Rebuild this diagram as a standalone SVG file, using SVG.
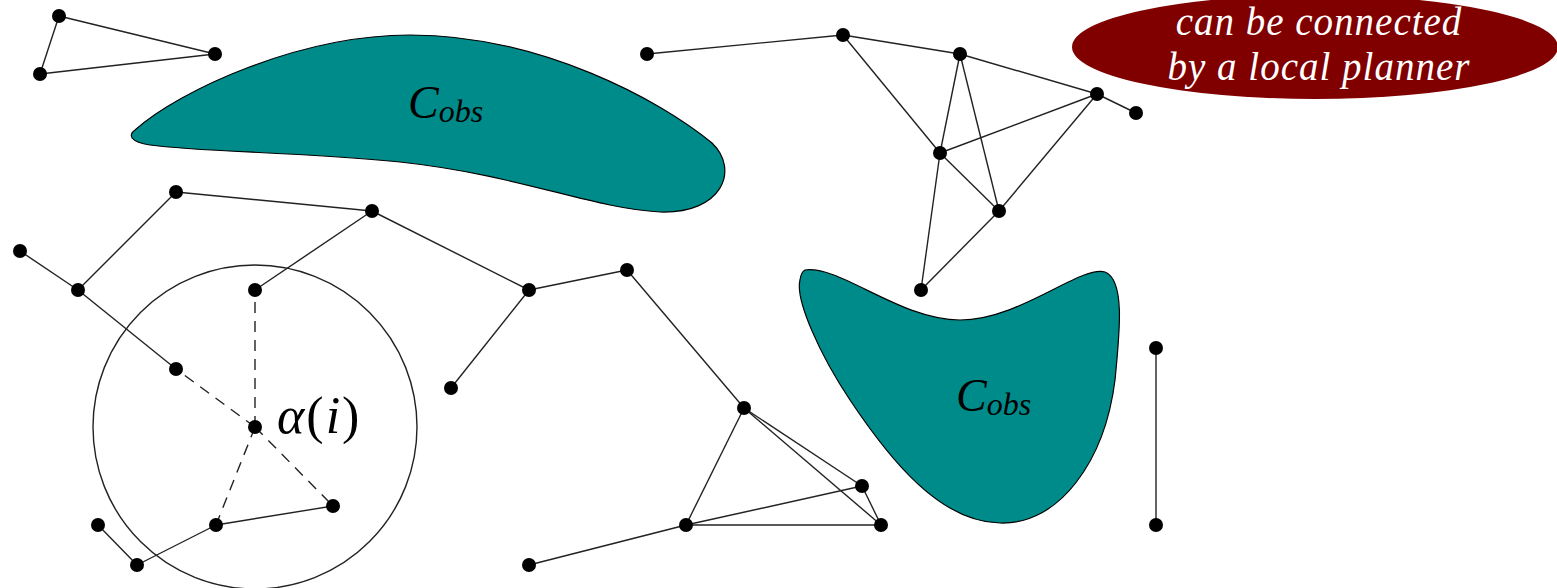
<svg xmlns="http://www.w3.org/2000/svg" width="1557" height="588" viewBox="0 0 1557 588">
<style>
.e{stroke:#222;stroke-width:1.4;fill:none}
.d{stroke:#222;stroke-width:1.4;fill:none;stroke-dasharray:11 8}
.n{fill:#000}
.obs{fill:#008b8b;stroke:#000;stroke-width:1.2}
.lab{font-family:"Liberation Serif","DejaVu Serif",serif;font-style:italic;fill:#000}
.bub{font-family:"Liberation Serif","DejaVu Serif",serif;font-style:italic;fill:#fff;font-size:39px;letter-spacing:1px;text-anchor:middle}
</style>
<rect width="1557" height="588" fill="#fff"/>
<g id="obstacle1">
<path class="obs" d="M135,130 C180,90 300,35 410,35 C540,35 660,100 712,143 C740,170 722,214 660,212 C590,208 520,175 400,162 C300,152 200,152 150,145 C130,142 128,135 135,130 Z"/>
<text class="lab" x="408" y="118" font-size="46">C<tspan font-size="32" dy="4">obs</tspan></text>
</g>
<g id="obstacle2">
<path class="obs" d="M805,270 C840,265 900,320 960,320 C1020,320 1080,265 1105,272 C1125,280 1120,330 1115,380 C1105,460 1060,525 1000,523 C940,522 890,460 850,400 C820,355 795,300 800,280 C801,273 803,271 805,270 Z"/>
<text class="lab" x="956" y="411" font-size="46">C<tspan font-size="32" dy="4">obs</tspan></text>
</g>
<g id="bubble">
<ellipse cx="1315" cy="47" rx="243" ry="52" fill="#800000"/>
<text class="bub" x="1319" y="35">can be connected</text>
<text class="bub" x="1319" y="80">by a local planner</text>
</g>
<g id="neighborhood">
<circle cx="255" cy="427" r="162" class="e" stroke-width="1.3"/>
</g>
<g id="connectors">
<line class="e" x1="59" y1="16" x2="40" y2="74"/>
<line class="e" x1="59" y1="16" x2="215" y2="54"/>
<line class="e" x1="40" y1="74" x2="215" y2="54"/>
<line class="e" x1="20" y1="251" x2="78" y2="290"/>
<line class="e" x1="78" y1="290" x2="176" y2="192"/>
<line class="e" x1="176" y1="192" x2="372" y2="211"/>
<line class="e" x1="372" y1="211" x2="255" y2="290"/>
<line class="e" x1="372" y1="211" x2="529" y2="290"/>
<line class="e" x1="78" y1="290" x2="176" y2="369"/>
<line class="e" x1="529" y1="290" x2="627" y2="270"/>
<line class="e" x1="529" y1="290" x2="451" y2="388"/>
<line class="e" x1="627" y1="270" x2="744" y2="408"/>
<line class="e" x1="744" y1="408" x2="686" y2="525"/>
<line class="e" x1="744" y1="408" x2="862" y2="486"/>
<line class="e" x1="744" y1="408" x2="881" y2="525"/>
<line class="e" x1="686" y1="525" x2="862" y2="486"/>
<line class="e" x1="686" y1="525" x2="881" y2="525"/>
<line class="e" x1="862" y1="486" x2="881" y2="525"/>
<line class="e" x1="686" y1="525" x2="529" y2="565"/>
<line class="e" x1="216" y1="525" x2="333" y2="506"/>
<line class="e" x1="216" y1="525" x2="137" y2="565"/>
<line class="e" x1="137" y1="565" x2="98" y2="525"/>
<line class="d" x1="255" y1="427" x2="255" y2="290"/>
<line class="d" x1="255" y1="427" x2="176" y2="369"/>
<line class="d" x1="255" y1="427" x2="333" y2="506"/>
<line class="d" x1="255" y1="427" x2="216" y2="525"/>
<line class="e" x1="647" y1="54" x2="843" y2="35"/>
<line class="e" x1="843" y1="35" x2="960" y2="54"/>
<line class="e" x1="843" y1="35" x2="940" y2="153"/>
<line class="e" x1="960" y1="54" x2="1097" y2="94"/>
<line class="e" x1="960" y1="54" x2="940" y2="153"/>
<line class="e" x1="960" y1="54" x2="999" y2="211"/>
<line class="e" x1="1097" y1="94" x2="1136" y2="113"/>
<line class="e" x1="1097" y1="94" x2="940" y2="153"/>
<line class="e" x1="1097" y1="94" x2="999" y2="211"/>
<line class="e" x1="940" y1="153" x2="999" y2="211"/>
<line class="e" x1="940" y1="153" x2="921" y2="290"/>
<line class="e" x1="999" y1="211" x2="921" y2="290"/>
<line class="e" x1="1156" y1="348" x2="1156" y2="525" stroke-width="2"/>
</g>
<g id="nodes">
<circle id="a1" class="n" cx="59" cy="16" r="7"/>
<circle id="a2" class="n" cx="40" cy="74" r="7"/>
<circle id="a3" class="n" cx="215" cy="54" r="7"/>
<circle id="b1" class="n" cx="20" cy="251" r="7"/>
<circle id="b2" class="n" cx="78" cy="290" r="7"/>
<circle id="b3" class="n" cx="176" cy="192" r="7"/>
<circle id="b4" class="n" cx="372" cy="211" r="7"/>
<circle id="b5" class="n" cx="176" cy="369" r="7"/>
<circle id="b6" class="n" cx="255" cy="290" r="7"/>
<circle id="b7" class="n" cx="255" cy="427" r="7"/>
<circle id="b8" class="n" cx="333" cy="506" r="7"/>
<circle id="b9" class="n" cx="216" cy="525" r="7"/>
<circle id="b10" class="n" cx="137" cy="565" r="7"/>
<circle id="b11" class="n" cx="98" cy="525" r="7"/>
<circle id="b12" class="n" cx="529" cy="290" r="7"/>
<circle id="b13" class="n" cx="627" cy="270" r="7"/>
<circle id="b14" class="n" cx="451" cy="388" r="7"/>
<circle id="b15" class="n" cx="744" cy="408" r="7"/>
<circle id="b16" class="n" cx="686" cy="525" r="7"/>
<circle id="b17" class="n" cx="862" cy="486" r="7"/>
<circle id="b18" class="n" cx="881" cy="525" r="7"/>
<circle id="b19" class="n" cx="529" cy="565" r="7"/>
<circle id="c1" class="n" cx="647" cy="54" r="7"/>
<circle id="c2" class="n" cx="843" cy="35" r="7"/>
<circle id="c3" class="n" cx="960" cy="54" r="7"/>
<circle id="c4" class="n" cx="1097" cy="94" r="7"/>
<circle id="c5" class="n" cx="1136" cy="113" r="7"/>
<circle id="c6" class="n" cx="940" cy="153" r="7"/>
<circle id="c7" class="n" cx="999" cy="211" r="7"/>
<circle id="c8" class="n" cx="921" cy="290" r="7"/>
<circle id="d1" class="n" cx="1156" cy="348" r="7"/>
<circle id="d2" class="n" cx="1156" cy="525" r="7"/>
</g>
<g id="alpha-label">
<text x="277" y="433" font-family="'Liberation Serif','DejaVu Serif',serif" font-size="52" letter-spacing="2" fill="#000"><tspan font-style="italic">α</tspan>(<tspan font-style="italic">i</tspan>)</text>
</g>
</svg>
